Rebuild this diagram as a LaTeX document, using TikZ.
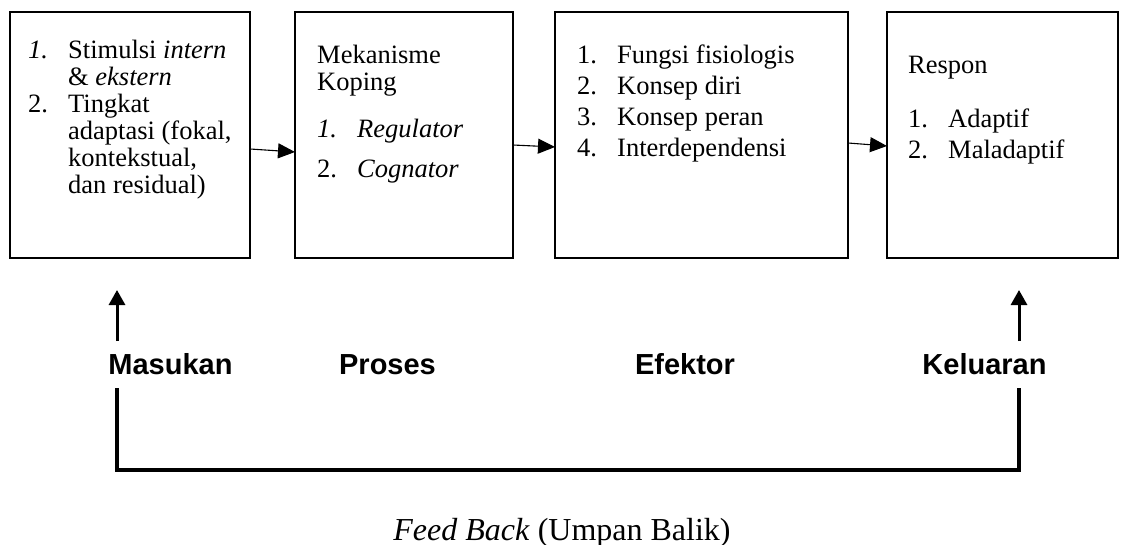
\documentclass[tikz,border=0pt]{standalone}
\usepackage{fontspec}
\setmainfont{Liberation Serif}
\newfontfamily\labelfont{Liberation Sans}
\usetikzlibrary{arrows.meta}
\newcommand{\itemno}[1]{\makebox[40pt][l]{#1}}

\begin{document}
\begin{tikzpicture}[x=1pt, y=-1pt,
  box/.style={draw, line width=1.8pt, inner sep=0pt, outer sep=0pt, minimum height=246pt},
  boxtext/.style={anchor=north west, align=left, inner sep=0pt, font=\fontsize{26.5}{#1}\selectfont},
  link/.style={line width=1.1pt, -{Triangle[length=17pt,width=15pt]}},
  stage/.style={anchor=base, font=\labelfont\bfseries\fontsize{29}{30}\selectfont},
  uparrow/.style={line width=3pt, -{Triangle[length=15pt,width=16pt]}},
  feedback/.style={line width=3.5pt}]
  \useasboundingbox (0,0) rectangle (1124,545);

  \node[box, minimum width=240pt] (inputbox) at (130,135) {};
  \node[box, minimum width=218pt] (processbox) at (404,135) {};
  \node[box, minimum width=293pt] (effectorbox) at (701.5,135) {};
  \node[box, minimum width=231pt] (outputbox) at (1002.5,135) {};

  \node[boxtext=27pt] (inputtext) at (28,40)
    {\itemno{\textit{1.}}Stimulsi \textit{intern}\\
     \hspace*{40pt}\& \textit{ekstern}\\
     \itemno{2.}Tingkat\\
     \hspace*{40pt}adaptasi (fokal,\\
     \hspace*{40pt}kontekstual,\\
     \hspace*{40pt}dan residual)};
  \node[boxtext=27pt] (processtext) at (317,45)
    {Mekanisme\\
     Koping\\[20pt]
     \itemno{\textit{1.}}\textit{Regulator}\\[13pt]
     \itemno{2.}\textit{Cognator}};
  \node[boxtext=31pt] (effectortext) at (577,45)
    {\itemno{1.}Fungsi fisiologis\\
     \itemno{2.}Konsep diri\\
     \itemno{3.}Konsep peran\\
     \itemno{4.}Interdependensi};
  \node[boxtext=31pt] (outputtext) at (908,56)
    {Respon\\[23pt]
     \itemno{1.}Adaptif\\
     \itemno{2.}Maladaptif};

  \draw[link] ([yshift=-14pt]inputbox.east) -- ([yshift=-17pt]processbox.west);
  \draw[link] ([yshift=-10pt]processbox.east) -- ([yshift=-12pt]effectorbox.west);
  \draw[link] ([yshift=-8pt]effectorbox.east) -- ([yshift=-11pt]outputbox.west);

  \node[stage] (masukan) at (170.5,374) {Masukan};
  \node[stage] (proses) at (387.5,374) {Proses};
  \node[stage] (efektor) at (685,374) {Efektor};
  \node[stage] (keluaran) at (984.5,374) {Keluaran};

  \coordinate (inlow) at (117,341);
  \coordinate (inhigh) at (117,290);
  \coordinate (outlow) at (1019,341);
  \coordinate (outhigh) at (1019,290);
  \coordinate (fbstart) at (117,388);
  \coordinate (fbleft) at (117,470);
  \coordinate (fbright) at (1019,470);
  \coordinate (fbend) at (1019,388);

  \draw[uparrow] (inlow) -- (inhigh);
  \draw[uparrow] (outlow) -- (outhigh);
  \draw[feedback] (fbstart) -- (fbleft) -- (fbright) -- (fbend);

  \node[anchor=base, font=\fontsize{32}{34}\selectfont] (caption) at (562,540)
    {\textit{Feed Back} (Umpan Balik)};
\end{tikzpicture}
\end{document}
